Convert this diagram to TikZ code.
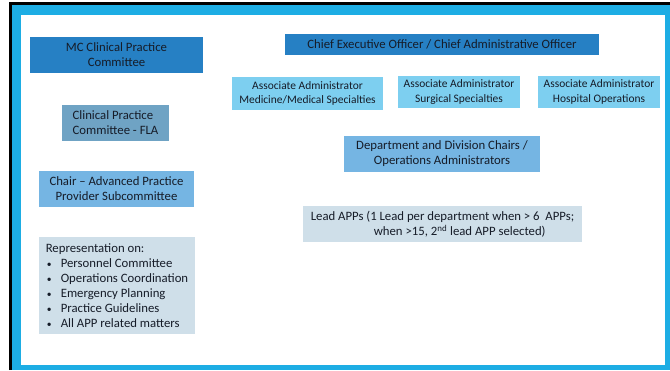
\documentclass[tikz,border=0pt]{standalone}
\usepackage{fontspec}
\setmainfont{Carlito}
\definecolor{frameblue}{RGB}{29,173,228}
\definecolor{darkblue}{RGB}{38,128,196}
\definecolor{cyanblue}{RGB}{125,207,240}
\definecolor{midblue}{RGB}{117,181,227}
\definecolor{steelblue}{RGB}{111,163,196}
\definecolor{paleblue}{RGB}{207,223,233}
\definecolor{textdark}{RGB}{22,28,40}
\tikzset{
    org/.style={x=1bp,y=-1bp},
    box/.style={align=center,text=textdark,inner sep=0pt,font=\fontsize{12.8}{15}\selectfont},
    top/.style={box,fill=darkblue},
    assoc/.style={box,fill=cyanblue,font=\fontsize{11.5}{14.5}\selectfont},
    chairs/.style={box,fill=midblue},
    fla/.style={box,fill=steelblue,align=left},
    lead/.style={box,fill=paleblue,align=left}
}
\newcommand{\itm}[1]{\makebox[15bp][l]{\hspace{1bp}\scalebox{0.75}{\textbullet}}#1}

\begin{document}
\begin{tikzpicture}[org]
    \useasboundingbox (0,0) rectangle (670,370);
    % frame
    \fill[frameblue] (11.5,4) rectangle (670,370);
    \fill[white] (21,15) rectangle (665,365);
    \draw[black,line width=3bp] (10,370) -- (10,3) -- (670,3);

    % left column
    \node[top,minimum width=173bp,minimum height=36bp] (mc) at (116.5,55) {MC Clinical Practice\\Committee};
    \node[fla,minimum width=107bp,minimum height=36bp] (fla) at (115.5,123) {Clinical Practice\\Committee - FLA};
    \node[chairs,minimum width=155bp,minimum height=36bp] (chair) at (116.5,189) {Chair -- Advanced Practice\\Provider Subcommittee};
    \node[lead,minimum width=156bp,minimum height=97bp] (rep) at (117,285.5) {Representation on:\\
        \itm{Personnel Committee}\\
        \itm{Operations Coordination}\\
        \itm{Emergency Planning}\\
        \itm{Practice Guidelines}\\
        \itm{All APP related matters}};

    % right column
    \node[top,minimum width=314bp,minimum height=21bp] (ceo) at (442,44.5) {Chief Executive Officer / Chief Administrative Officer};
    \node[assoc,minimum width=151bp,minimum height=33bp] (med) at (307.5,93.5) {Associate Administrator\\Medicine/Medical Specialties};
    \node[assoc,minimum width=122bp,minimum height=32bp] (surg) at (459,92) {Associate Administrator\\Surgical Specialties};
    \node[assoc,minimum width=122bp,minimum height=32bp] (hosp) at (599,92) {Associate Administrator\\Hospital Operations};
    \node[chairs,minimum width=196bp,minimum height=36bp] (dept) at (442,154) {Department and Division Chairs /\\Operations Administrators};
    \node[lead,minimum width=279bp,minimum height=36bp,font=\fontsize{12.8}{15.5}\selectfont] (apps) at (442.5,224) {Lead APPs (1 Lead per department when \textgreater{} 6~ APPs;\\
        \hspace*{63bp}when \textgreater15, 2\textsuperscript{nd} lead APP selected)};
\end{tikzpicture}
\end{document}
